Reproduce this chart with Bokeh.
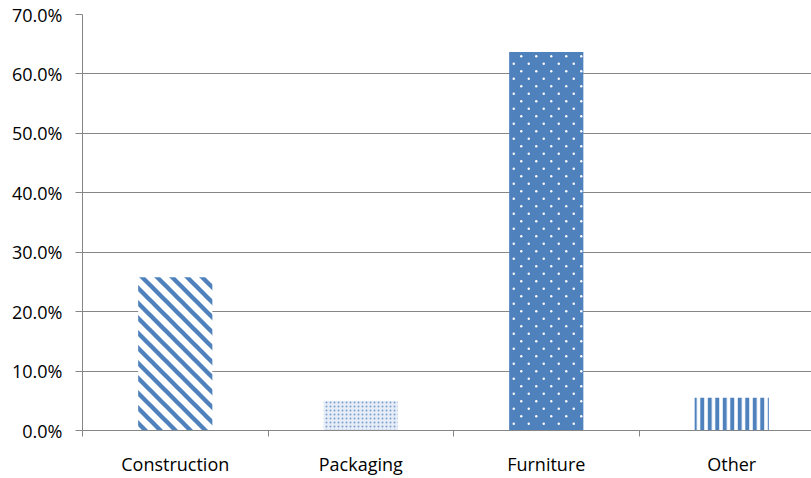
import base64
from bokeh.plotting import figure
from bokeh.models import Range1d, FixedTicker, NumeralTickFormatter, ImageURLTexture
from bokeh.core.properties import value
from bokeh.embed import file_html
from bokeh.resources import INLINE

categories = ["Construction", "Packaging", "Furniture", "Other"]
shares = [0.258, 0.050, 0.637, 0.055]
y_ticks = [0.0, 0.1, 0.2, 0.3, 0.4, 0.5, 0.6, 0.7]

BLUE = "#4f81bd"
GRAY = "#868686"
FONT = "Open Sans"


def svg_texture(body, size=15):
    svg = (f"<svg xmlns='http://www.w3.org/2000/svg' width='{size}' height='{size}'>"
           + body + "</svg>")
    return ImageURLTexture(url="data:image/svg+xml;base64," + base64.b64encode(svg.encode()).decode())


# staggered small white dots
stagger_dots = svg_texture(
    "<circle cx='3.75' cy='3.75' r='1.2' fill='white'/>"
    "<circle cx='11.25' cy='11.25' r='1.2' fill='white'/>")
# 45-degree wide diagonal stripes (top-left to bottom-right)
diag_stripes = svg_texture(
    f"<g stroke='{BLUE}' stroke-width='4.4'>"
    "<line x1='-5' y1='-5' x2='20' y2='20'/>"
    "<line x1='-20' y1='-5' x2='5' y2='20'/>"
    "<line x1='10' y1='-5' x2='35' y2='20'/></g>")

textures = {"sdots": stagger_dots, "dstripes": diag_stripes}

styles = [
    dict(fill_color="white", hatch_pattern=value("dstripes"), hatch_color=BLUE, hatch_scale=15, hatch_weight=4),
    dict(fill_color="#e6edf7", hatch_pattern=value("."), hatch_color="#7ea2d0", hatch_scale=4, hatch_weight=1),
    dict(fill_color=BLUE, hatch_pattern=value("sdots"), hatch_color="white", hatch_scale=15, hatch_weight=1),
    dict(fill_color="white", hatch_pattern=value("|"), hatch_color=BLUE, hatch_scale=7.5, hatch_weight=4),
]

n = len(categories)
centers = [i + 0.5 for i in range(n)]

p = figure(frame_width=729, frame_height=416, output_backend="svg", toolbar_location=None,
           min_border_left=82, min_border_right=0, min_border_top=14, min_border_bottom=48,
           x_range=Range1d(0, 729 / 185.5), y_range=Range1d(0, 0.7))
p.outline_line_color = None
p.background_fill_color = "white"
p.border_fill_color = "white"

for c, v, st in zip(centers, shares, styles):
    p.vbar(x=[c], top=[v], bottom=0, width=0.4, line_color=None,
           hatch_extra=textures, **st)

p.yaxis.ticker = FixedTicker(ticks=y_ticks, minor_ticks=[])
p.yaxis.formatter = NumeralTickFormatter(format="0.0%")
p.yaxis.axis_line_color = GRAY
p.yaxis.major_tick_line_color = GRAY
p.yaxis.major_tick_out = 7
p.yaxis.major_tick_in = 0
p.yaxis.minor_tick_line_color = None
p.yaxis.major_label_standoff = 13
p.yaxis.major_label_text_font = FONT
p.yaxis.major_label_text_font_size = "18px"
p.yaxis.major_label_text_color = "black"

p.xaxis.ticker = FixedTicker(ticks=centers, minor_ticks=list(range(n + 1)))
p.xaxis.major_label_overrides = {c: name for c, name in zip(centers, categories)}
p.xaxis.axis_line_color = GRAY
p.xaxis.major_tick_line_color = None
p.xaxis.major_tick_out = 0
p.xaxis.major_tick_in = 0
p.xaxis.minor_tick_line_color = GRAY
p.xaxis.minor_tick_out = 6
p.xaxis.minor_tick_in = 0
p.xaxis.major_label_standoff = 15
p.xaxis.major_label_text_font = FONT
p.xaxis.major_label_text_font_size = "18px"
p.xaxis.major_label_text_color = "black"

p.xgrid.grid_line_color = None
p.ygrid.grid_line_color = GRAY
p.ygrid.grid_line_width = 1

open("out.html", "w").write(file_html(p, INLINE))
